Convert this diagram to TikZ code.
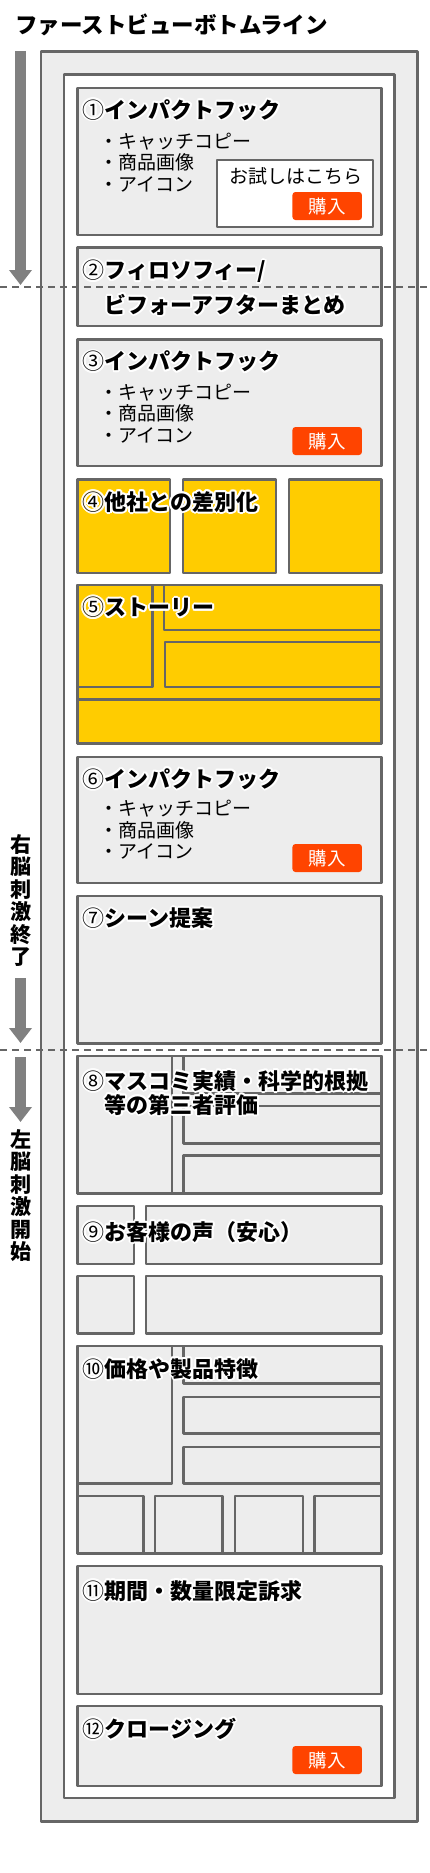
\documentclass[tikz,border=0pt]{standalone}
\usepackage{fontspec}
\setmainfont{Noto Sans CJK JP}
\usetikzlibrary{arrows.meta}
\definecolor{edge}{HTML}{666666}
\definecolor{pane}{HTML}{EDEDED}
\definecolor{amber}{HTML}{FFCC00}
\definecolor{buyred}{HTML}{FF4400}
\definecolor{flowgray}{HTML}{808080}
% white rim round the headings
\newcommand\halo[1]{\makebox[0pt][l]{\color{white}%
  \foreach \dx/\dy in {1.8/0,1.56/0.9,0.9/1.56,0/1.8,-0.9/1.56,-1.56/0.9,-1.8/0,-1.56/-0.9,-0.9/-1.56,0/-1.8,0.9/-1.56,1.56/-0.9}%
  {\makebox[0pt][l]{\hspace*{\dx pt}\raisebox{\dy pt}{#1}}}}#1}
% three bullet lines, #2 = first baseline
\newcommand\bullets[2]{%
  \node[item] (#1a) at (99,#2) {・キャッチコピー};
  \node[item] (#1b) at (99,#2+21.5) {・商品画像};
  \node[item] (#1c) at (99,#2+43) {・アイコン};}
\newcommand\buy[2]{\node[btn] (#1) at (327.2,#2) {購入};}
\newcommand\num[1]{{\mdseries #1}}
\begin{document}
\begin{tikzpicture}[x=1pt,y=-1pt,line join=round,
 frame/.style={draw=edge,line width=2.6pt},
 blk/.style={draw=edge,line width=2.4pt,fill=pane},
 ybox/.style={blk,fill=amber},
 head/.style={anchor=base west,inner sep=0pt,font=\fontsize{22}{24}\selectfont\bfseries},
 item/.style={anchor=base west,inner sep=0pt,font=\fontsize{19}{21}\selectfont},
 btn/.style={fill=buyred,rounded corners=3pt,minimum width=69.5pt,minimum height=28pt,inner sep=0pt,text=white,font=\fontsize{18.5}{19}\selectfont},
 side/.style={align=center,inner sep=0pt,font=\fontsize{21}{22.5}\selectfont\bfseries},
 flow/.style={draw=flowgray,line width=11pt,-{Triangle[width=22pt,length=15pt]}},
 cut/.style={draw=edge,line width=2.2pt,dash pattern=on 7pt off 5pt}]
\useasboundingbox (0,0) rectangle (430,1873);
% frames
\draw[frame,fill=pane] (41,51.7) rectangle (417.3,1821.3);
\draw[frame,fill=white] (64,74.7) rectangle (394.7,1798);
% 1-3
\draw[blk] (77.3,88) rectangle (381.3,234.7);
\draw[blk,fill=white] (217,160) rectangle (373,227);
\draw[blk] (77.3,247.5) rectangle (381.3,326);
\draw[blk] (77.3,339.5) rectangle (381.3,466);
% 4, 5
\foreach \a/\b in {77.3/170,182.7/275.7,288.7/381.3}
  \draw[ybox] (\a,479.5) rectangle (\b,573);
\draw[ybox] (77.3,585) rectangle (381.3,743.3);
\draw[ybox] (77.3,585) rectangle (152.3,686.7) (164,585) rectangle (381.3,630)
  (165,642) rectangle (381.3,686.7) (77.3,699.3) rectangle (381.3,743.3);
% 6, 7
\draw[blk] (77.3,756.7) rectangle (381.3,882.7);
\draw[blk] (77.3,896) rectangle (381.3,1043.3);
% 8
\draw[blk] (77.3,1056) rectangle (381.3,1193.3);
\draw[blk] (77.3,1056) rectangle (171.7,1193.3) (183.3,1056) rectangle (381.3,1093.3)
  (183.3,1106) rectangle (381.3,1143.3) (183.3,1155.3) rectangle (381.3,1193.3);
% 9
\foreach \t/\b in {1206/1264,1276/1333.3}
  \draw[blk] (77.3,\t) rectangle (134,\b) (145.7,\t) rectangle (381.3,\b);
% 10
\draw[blk] (77.3,1346) rectangle (381.3,1553.3);
\draw[blk] (77.3,1346) rectangle (171.7,1483.3) (183.3,1346) rectangle (381.3,1383.3)
  (183.3,1396.7) rectangle (381.3,1433.3) (183.3,1446.7) rectangle (381.3,1483.3);
\foreach \a/\b in {77.3/143.3,155/222.3,235/302.7,314.3/381.3}
  \draw[blk] (\a,1496) rectangle (\b,1553.3);
% 11, 12
\draw[blk] (77.3,1565.7) rectangle (381.3,1694);
\draw[blk] (77.3,1706) rectangle (381.3,1785.7);

% texts
\node[head,font=\fontsize{22.5}{24}\selectfont\bfseries] (title) at (15,33.4) {ファーストビューボトムライン};
\node[head] (h1) at (82.5,118.2) {\halo{\num{①}インパクトフック}};
\bullets{b1}{148.2}
\node[item] (try) at (229,183.7) {お試しはこちら};
\buy{p1}{206}
\node[head] (h2) at (82.5,278.7) {\halo{\num{②}フィロソフィー/}};
\node[head] (h2b) at (82.5,313.2) {\halo{\phantom{②}ビフォーアフターまとめ}};
\node[head] (h3) at (82.5,369.9) {\halo{\num{③}インパクトフック}};
\bullets{b3}{399.2}
\buy{p3}{441}
\node[head] (h4) at (82.5,510.2) {\halo{\num{④}他社との差別化}};
\node[head] (h5) at (82.5,615.7) {\halo{\num{⑤}ストーリー}};
\node[head] (h6) at (82.5,787.2) {\halo{\num{⑥}インパクトフック}};
\bullets{b6}{815.7}
\buy{p6}{858}
\node[head] (h7) at (82.5,926.7) {\halo{\num{⑦}シーン提案}};
\node[head] (h8) at (82.5,1089.2) {\halo{\num{⑧}マスコミ実績・科学的根拠}};
\node[head] (h8b) at (82.5,1113.2) {\halo{\phantom{⑧}等の第三者評価}};
\node[head] (h9) at (82.5,1240.2) {\halo{\num{⑨}お客様の声（安心）}};
\node[head] (h10) at (82.5,1377.2) {\halo{\num{⑩}価格や製品特徴}};
\node[head] (h11) at (82.5,1599.2) {\halo{\num{⑪}期間・数量限定訴求}};
\node[head] (h12) at (82.5,1737.2) {\halo{\num{⑫}クロージング}};
\buy{p12}{1760}

% left side
\node[side] (rend) at (20.5,900.5) {右\\脳\\刺\\激\\終\\了};
\node[side] (lbeg) at (20.5,1195.5) {左\\脳\\刺\\激\\開\\始};
\coordinate (f1) at (20.5,51);
\coordinate (f1e) at (20.5,285);
\coordinate (f2) at (20.5,978);
\coordinate (f2e) at (20.5,1043);
\coordinate (f3) at (20.5,1057);
\coordinate (f3e) at (20.5,1122);
\draw[flow] (f1) -- (f1e);
\draw[flow] (f2) -- (f2e);
\draw[flow] (f3) -- (f3e);

% bottom of first view / switch of brain side
\draw[cut] (0,287) -- (430,287);
\draw[cut] (0,1050) -- (430,1050);
\end{tikzpicture}
\end{document}
